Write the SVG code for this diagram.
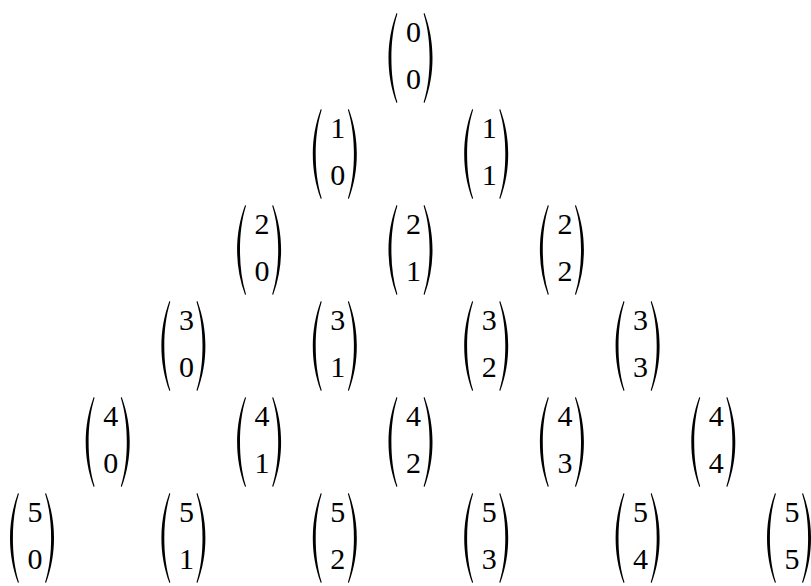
<svg xmlns="http://www.w3.org/2000/svg" width="811" height="586" viewBox="0 0 811 586">
<style>
text{font-family:"Liberation Serif","Tinos","DejaVu Serif","Noto Serif",serif;font-size:30px;fill:#000;text-anchor:middle}
.p{fill:#000}
</style>
<defs>
<path id="lp" class="p" d="M8,0 C2.5,15 0,30 0,45 C0,60 2.5,75 8,90 L8.9,89.3 C4.5,75 2.9,60 2.9,45 C2.9,30 4.5,15 8.9,0.7 Z"/>
<path id="rp" class="p" d="M-8,0 C-2.5,15 0,30 0,45 C0,60 -2.5,75 -8,90 L-8.9,89.3 C-4.5,75 -2.9,60 -2.9,45 C-2.9,30 -4.5,15 -8.9,0.7 Z"/>
</defs>
<rect width="811" height="586" fill="#fff"/>
<g id="n0-0" transform="translate(413.5,13)"><use href="#lp" x="-25"/><use href="#rp" x="19"/><text y="29">0</text><text y="76">0</text></g>
<g id="n1-0" transform="translate(337.8,109)"><use href="#lp" x="-25"/><use href="#rp" x="19"/><text y="29">1</text><text y="76">0</text></g>
<g id="n1-1" transform="translate(489.2,109)"><use href="#lp" x="-25"/><use href="#rp" x="19"/><text y="29">1</text><text y="76">1</text></g>
<g id="n2-0" transform="translate(262.1,205)"><use href="#lp" x="-25"/><use href="#rp" x="19"/><text y="29">2</text><text y="76">0</text></g>
<g id="n2-1" transform="translate(413.5,205)"><use href="#lp" x="-25"/><use href="#rp" x="19"/><text y="29">2</text><text y="76">1</text></g>
<g id="n2-2" transform="translate(564.9,205)"><use href="#lp" x="-25"/><use href="#rp" x="19"/><text y="29">2</text><text y="76">2</text></g>
<g id="n3-0" transform="translate(186.4,301)"><use href="#lp" x="-25"/><use href="#rp" x="19"/><text y="29">3</text><text y="76">0</text></g>
<g id="n3-1" transform="translate(337.8,301)"><use href="#lp" x="-25"/><use href="#rp" x="19"/><text y="29">3</text><text y="76">1</text></g>
<g id="n3-2" transform="translate(489.2,301)"><use href="#lp" x="-25"/><use href="#rp" x="19"/><text y="29">3</text><text y="76">2</text></g>
<g id="n3-3" transform="translate(640.6,301)"><use href="#lp" x="-25"/><use href="#rp" x="19"/><text y="29">3</text><text y="76">3</text></g>
<g id="n4-0" transform="translate(110.7,397)"><use href="#lp" x="-25"/><use href="#rp" x="19"/><text y="29">4</text><text y="76">0</text></g>
<g id="n4-1" transform="translate(262.1,397)"><use href="#lp" x="-25"/><use href="#rp" x="19"/><text y="29">4</text><text y="76">1</text></g>
<g id="n4-2" transform="translate(413.5,397)"><use href="#lp" x="-25"/><use href="#rp" x="19"/><text y="29">4</text><text y="76">2</text></g>
<g id="n4-3" transform="translate(564.9,397)"><use href="#lp" x="-25"/><use href="#rp" x="19"/><text y="29">4</text><text y="76">3</text></g>
<g id="n4-4" transform="translate(716.3,397)"><use href="#lp" x="-25"/><use href="#rp" x="19"/><text y="29">4</text><text y="76">4</text></g>
<g id="n5-0" transform="translate(35,493)"><use href="#lp" x="-25"/><use href="#rp" x="19"/><text y="29">5</text><text y="76">0</text></g>
<g id="n5-1" transform="translate(186.4,493)"><use href="#lp" x="-25"/><use href="#rp" x="19"/><text y="29">5</text><text y="76">1</text></g>
<g id="n5-2" transform="translate(337.8,493)"><use href="#lp" x="-25"/><use href="#rp" x="19"/><text y="29">5</text><text y="76">2</text></g>
<g id="n5-3" transform="translate(489.2,493)"><use href="#lp" x="-25"/><use href="#rp" x="19"/><text y="29">5</text><text y="76">3</text></g>
<g id="n5-4" transform="translate(640.6,493)"><use href="#lp" x="-25"/><use href="#rp" x="19"/><text y="29">5</text><text y="76">4</text></g>
<g id="n5-5" transform="translate(792,493)"><use href="#lp" x="-25"/><use href="#rp" x="19"/><text y="29">5</text><text y="76">5</text></g>
</svg>
